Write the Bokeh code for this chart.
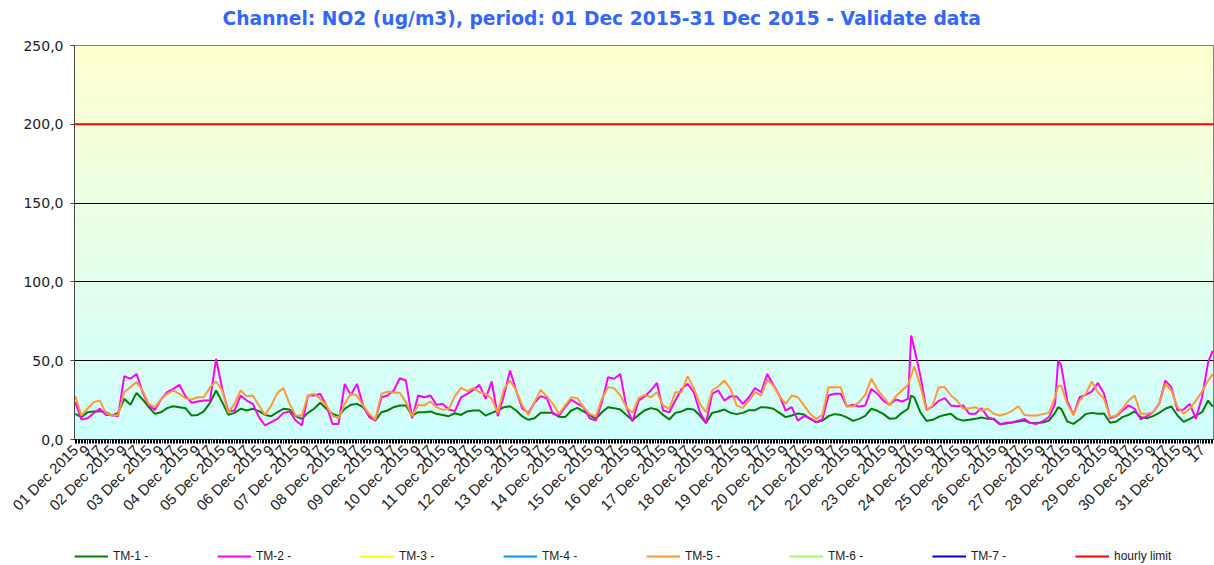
from bokeh.plotting import figure
from bokeh.layouts import column
from bokeh.models import Range1d, FixedTicker, Legend, LegendItem, Title
from bokeh.embed import file_html
from bokeh.resources import INLINE

# ---------------- data (4-hour samples) ----------------
hours = list(range(0, 744, 4))
extra_hours = [546, 642, 743]

tm1 = [16.3, 14.2, 17.3, 17.8, 18.0, 17.3, 15.2, 16.9, 25.8, 22.0, 29.6, 25.4, 20.5, 16.3, 17.3, 19.9,
       21.1, 20.5, 19.9, 15.2, 15.6, 17.8, 23.3, 31.1, 23.7, 15.6, 16.9, 19.5, 18.4, 19.5, 18.0, 15.6,
       14.8, 17.3, 19.5, 19.0, 14.8, 13.1, 16.9, 19.5, 23.3, 19.5, 16.3, 14.8, 19.5, 22.0, 22.6, 20.5,
       15.2, 12.0, 17.3, 18.4, 20.5, 21.6, 21.6, 15.2, 17.3, 17.3, 17.8, 16.3, 15.6, 14.8, 16.7,
       15.6, 17.8, 18.4, 18.4, 15.2, 16.9, 18.4, 20.5, 21.1, 18.4, 14.6, 12.5, 13.5, 16.9, 16.9, 16.9,
       14.4, 14.2, 18.4, 20.1, 17.8, 15.6, 13.1, 17.3, 20.5, 19.9, 19.0, 15.6, 12.3, 15.6, 18.6,
       19.9, 19.0, 15.6, 12.7, 16.9, 17.8, 19.5, 19.0, 15.2, 10.4, 16.9, 17.8, 19.0, 16.9, 16.1, 16.9,
       18.6, 18.6, 20.5, 20.3, 19.5, 16.9, 14.2, 15.2, 16.5, 15.9, 13.1, 11.0, 12.0, 14.8, 16.1,
       15.6, 14.0, 11.8, 13.1, 15.0, 19.5, 18.2, 16.1, 13.1, 13.5, 16.9, 19.5, 26.8, 17.3, 11.8, 12.5,
       14.4, 15.6, 16.3, 13.1, 12.0, 12.5, 13.1, 14.0, 13.1, 13.1, 9.9, 10.1, 10.8, 11.4, 12.0,
       10.4, 10.4, 10.8, 12.0, 16.9, 19.5, 11.4, 9.9, 12.7, 16.1, 16.9, 16.3, 16.5, 10.6, 11.4, 14.2,
       15.6, 17.8, 14.2, 13.5, 14.8, 16.9, 19.5, 20.9, 15.2, 11.2, 13.1, 15.2, 17.3, 24.7]
tm1_extra = [27.9, 20.5, 20.9]

tm2 = [23.7, 12.7, 13.5, 16.7, 19.5, 15.6, 15.6, 14.8, 40.2, 38.5, 41.6, 30.0, 21.6, 18.8, 25.4, 30.0,
       32.1, 34.7, 27.5, 23.3, 24.1, 24.7, 24.7, 51.2, 32.1, 17.8, 18.4, 27.9, 24.7, 22.6, 14.2, 8.9,
       11.0, 13.1, 16.9, 17.8, 12.0, 8.9, 27.9, 27.9, 29.0, 21.6, 9.9, 9.9, 35.3, 28.3, 35.3, 21.6,
       14.2, 12.0, 26.8, 27.9, 31.1, 38.9, 37.4, 13.5, 27.9, 26.8, 27.9, 22.0, 22.6, 19.0, 18.0,
       26.8, 29.0, 31.5, 34.7, 25.8, 36.8, 14.8, 27.9, 43.8, 31.1, 19.5, 16.9, 23.3, 27.5, 26.2, 16.3,
       15.2, 20.5, 25.4, 22.8, 20.5, 13.5, 12.0, 23.7, 39.5, 38.5, 41.6, 20.5, 11.4, 24.7, 27.5,
       31.1, 35.9, 18.4, 17.3, 24.7, 32.1, 35.3, 30.0, 17.3, 10.4, 29.0, 31.1, 24.7, 27.5, 27.3, 22.6,
       26.8, 32.6, 30.0, 41.6, 34.7, 27.9, 18.4, 20.5, 12.0, 14.8, 13.5, 11.0, 12.7, 27.9, 29.0,
       29.0, 20.9, 22.0, 20.9, 21.6, 32.1, 29.0, 24.5, 22.0, 25.4, 24.1, 25.8, 57.9, 40.6, 18.8, 20.9,
       24.5, 26.2, 21.6, 21.1, 21.6, 16.3, 16.3, 19.9, 14.2, 12.7, 9.5, 10.6, 11.0, 12.0, 13.1,
       10.4, 9.9, 11.6, 14.2, 22.6, 46.9, 24.5, 15.6, 26.8, 28.3, 30.4, 35.9, 29.0, 13.5, 14.8, 18.4,
       21.6, 19.5, 12.7, 14.8, 17.3, 22.6, 37.4, 33.2, 18.4, 19.0, 22.6, 13.1, 26.8, 49.0]
tm2_extra = [66.0, 50.1, 56.4]

tm5 = [27.5, 15.2, 19.5, 23.7, 24.7, 16.9, 15.2, 15.6, 30.0, 33.2, 36.4, 31.1, 22.6, 20.5, 25.4, 29.0,
       31.1, 29.0, 26.2, 25.4, 26.8, 26.8, 33.2, 36.8, 31.1, 16.9, 22.6, 31.1, 27.5, 27.9, 21.6, 15.6,
       21.6, 29.6, 32.6, 22.6, 15.2, 15.2, 27.9, 29.0, 25.8, 21.6, 15.2, 13.5, 22.6, 29.0, 27.9, 21.6,
       16.3, 12.5, 29.0, 30.4, 29.6, 29.6, 23.7, 14.8, 22.0, 21.6, 24.1, 20.5, 18.8, 19.5, 27.5,
       32.8, 30.7, 32.6, 30.0, 29.0, 25.8, 16.9, 32.1, 37.4, 31.1, 21.6, 15.6, 23.7, 31.5, 27.3, 22.6,
       16.3, 21.6, 26.8, 26.2, 20.5, 16.3, 14.6, 25.8, 33.2, 32.6, 27.9, 20.5, 16.9, 26.2, 28.3,
       26.8, 30.0, 21.6, 19.5, 30.0, 30.0, 40.2, 32.6, 22.6, 17.3, 31.1, 33.8, 37.4, 32.1, 21.6, 19.9,
       24.7, 30.0, 27.9, 38.1, 34.2, 27.5, 22.6, 27.9, 26.8, 21.6, 16.3, 13.1, 15.6, 33.2, 33.2,
       33.2, 21.1, 20.9, 23.7, 28.3, 38.5, 31.7, 26.8, 22.0, 27.5, 31.1, 34.7, 46.5, 34.2, 18.4, 21.6,
       33.2, 33.2, 27.9, 24.7, 19.5, 19.9, 20.5, 18.4, 19.5, 16.3, 15.2, 16.3, 18.2, 21.1, 15.6,
       15.2, 15.2, 16.1, 16.9, 26.8, 34.2, 22.6, 15.6, 24.7, 29.0, 36.8, 30.0, 25.8, 14.2, 15.2, 19.5,
       24.7, 27.9, 16.3, 16.3, 17.3, 22.6, 35.3, 31.1, 20.5, 16.3, 19.5, 24.7, 30.4, 37.4]
tm5_extra = [40.6, 33.8, 41.6]

hourly_limit = 200.0

day_labels = ["%02d Dec 2015" % d for d in range(1, 32)]
hour_labels = ["9", "17"]
y_ticks = [0, 50, 100, 150, 200, 250]
y_tick_labels = ["0,0", "50,0", "100,0", "150,0", "200,0", "250,0"]

series_names = ["TM-1 -", "TM-2 -", "TM-3 -", "TM-4 -", "TM-5 -", "TM-6 -", "TM-7 -"]
series_colors = ["#008000", "#FF00FF", "#FFFF00", "#0099FF", "#FF9933", "#99FF66", "#0000CC"]
limit_name = "hourly limit"
limit_color = "#FF0000"
title_text = "Channel: NO2 (ug/m3), period: 01 Dec 2015-31 Dec 2015 - Validate data"

# ---------------- merge samples ----------------
def merged(base, extra):
    pts = sorted(list(zip(hours, base)) + list(zip(extra_hours, extra)))
    return [q[0] for q in pts], [q[1] for q in pts]

x1, y1 = merged(tm1, tm1_extra)
x2, y2 = merged(tm2, tm2_extra)
x5, y5 = merged(tm5, tm5_extra)
NO_DATA = ([0], [float("nan")])
series_data = {0: (x1, y1), 1: (x2, y2), 4: (x5, y5)}

X0, X1 = -0.5, 743.5

p = figure(width=1214, height=540, output_backend="svg", toolbar_location=None, title=None,
           x_range=Range1d(X0, X1), y_range=Range1d(0, 250),
           min_border_left=74, min_border_right=1, min_border_top=45, min_border_bottom=101)

# background gradient (yellow top -> cyan bottom)
n_strips = 125
bottoms, tops, cols = [], [], []
for i in range(n_strips):
    t = (i + 0.5) / n_strips
    r = int(round(204 + (255 - 204) * t))
    b = int(round(255 - (255 - 204) * t))
    bottoms.append(250 * i / n_strips)
    tops.append(250 * (i + 1) / n_strips)
    cols.append("#%02x%02x%02x" % (r, 255, b))
p.quad(left=X0, right=X1, bottom=bottoms, top=tops, fill_color=cols, line_color=None, level="image")

p.background_fill_color = "white"
p.border_fill_color = "white"
p.outline_line_color = "#555555"
p.xgrid.visible = False
p.ygrid.grid_line_color = "black"
p.ygrid.grid_line_width = 1

# series
for i, col in enumerate(series_colors):
    xs, ys = series_data.get(i, NO_DATA)
    p.line(xs, ys, line_color=col, line_width=2)
p.line([X0, X1], [hourly_limit, hourly_limit], line_color=limit_color, line_width=2)

# title: a small blank spacer next to the frame, then the real title above it
p.add_layout(Title(text=" ", text_font_size="13px", standoff=0), "above")
p.add_layout(Title(text=title_text, text_font="DejaVu Sans", text_font_style="bold",
                   text_font_size="18.7px", text_color="#3366FF", align="left",
                   offset=148, standoff=0), "above")

# x axis
tick_pos, tick_lab = [], {}
for d, dl in enumerate(day_labels):
    for j, lab in enumerate([dl] + hour_labels):
        h = d * 24 + j * 8
        tick_pos.append(h)
        tick_lab[h] = lab
p.xaxis.ticker = FixedTicker(ticks=tick_pos, minor_ticks=list(range(0, 744)))
p.xaxis.major_label_overrides = tick_lab
p.xaxis.major_label_orientation = 0.785
p.xaxis.major_label_text_font = "Liberation Sans"
p.xaxis.major_label_text_font_size = "15px"
p.xaxis.major_label_text_color = "#222222"
p.xaxis.major_tick_out = 4
p.xaxis.major_tick_in = 0
p.xaxis.minor_tick_out = 4
p.xaxis.minor_tick_in = 0
p.xaxis.major_tick_line_color = "black"
p.xaxis.minor_tick_line_color = "black"
p.xaxis.axis_line_color = "#444444"
p.xaxis.major_label_standoff = 4

# y axis
p.yaxis.ticker = FixedTicker(ticks=y_ticks, minor_ticks=[])
p.yaxis.major_label_overrides = dict(zip(y_ticks, y_tick_labels))
p.yaxis.major_label_text_font = "DejaVu Sans"
p.yaxis.major_label_text_font_size = "14px"
p.yaxis.major_label_text_color = "#222222"
p.yaxis.major_tick_out = 4
p.yaxis.major_tick_in = 0
p.yaxis.major_tick_line_color = "#444444"
p.yaxis.axis_line_color = "#444444"
p.yaxis.major_label_standoff = 7

# ---------------- legend strip (own small figure under the chart) ----------------
lg = figure(width=1214, height=25, output_backend="svg", toolbar_location=None,
            x_range=Range1d(0, 1), y_range=Range1d(0, 1),
            x_axis_type=None, y_axis_type=None, min_border=0)
lg.outline_line_color = None
lg.grid.visible = False
lg.background_fill_color = "white"
lg.border_fill_color = "white"
items = []
for n, col in zip(series_names + [limit_name], series_colors + [limit_color]):
    r = lg.line(*NO_DATA, line_color=col, line_width=2)
    items.append(LegendItem(label=n, renderers=[r]))
legend = Legend(items=items, orientation="horizontal", location=(0, 2),
                label_text_font="Liberation Sans", label_text_font_size="12px",
                label_text_color="#222222",
                glyph_width=34, glyph_height=12, label_standoff=5, label_width=61,
                label_height=14, spacing=43, padding=0, margin=0,
                border_line_alpha=0, background_fill_alpha=0)
lg.add_layout(legend)

layout = column(p, lg, spacing=0)
open("out.html", "w").write(file_html(layout, INLINE))
